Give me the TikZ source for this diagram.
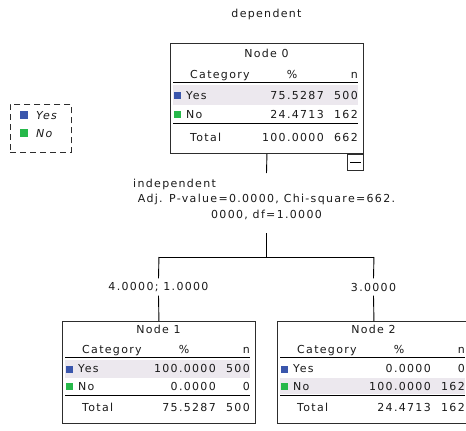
\documentclass[tikz,border=0pt]{standalone}
\usepackage{fontspec}
\newfontfamily\tf[LetterSpace=12]{DejaVu Sans}
\definecolor{boxline}{RGB}{45,45,45}
\definecolor{rowshade}{RGB}{236,232,238}
\definecolor{yesblue}{RGB}{58,86,172}
\definecolor{nogreen}{RGB}{38,184,74}
\newcommand\tabrows[9]{%
  \ifnum#3=1 \fill[rowshade] (3,42) rectangle (188,62);\else \fill[rowshade] (3,62) rectangle (188,79);\fi
  \node[anchor=base] (#1t) at (96.5,14) {#2};
  \node[anchor=base west] (#1c) at (20,35) {Category};
  \node[anchor=base] (#1p) at (122,35) {\%};
  \node[anchor=base east] (#1n) at (188,35) {n};
  \draw[rule] (3,39) -- (188,39);
  \node[sq, fill=yesblue] (#1ys) at (7,52) {};
  \node[anchor=base west] (#1y) at (16,56) {Yes};
  \node[anchor=base east] (#1yp) at (154,56) {#4};
  \node[anchor=base east] (#1yn) at (188,56) {#5};
  \node[sq, fill=nogreen] (#1ns) at (7,71) {};
  \node[anchor=base west] (#1no) at (16,75) {No};
  \node[anchor=base east] (#1np) at (154,75) {#6};
  \node[anchor=base east] (#1nn) at (188,75) {#7};
  \draw[rule] (3,80) -- (188,80);
  \node[anchor=base west] (#1to) at (20,98) {Total};
  \node[anchor=base east] (#1tp) at (154,98) {#8};
  \node[anchor=base east] (#1tn) at (188,98) {#9};
}
\begin{document}
\begin{tikzpicture}[x=1pt,y=-1pt,
  every node/.style={font={\tf\fontsize{11}{13}\selectfont}, inner sep=0pt, text=black!90},
  tbox/.style={draw=boxline, line width=0.9pt, minimum width=193pt, anchor=north west, inner sep=0pt},
  rule/.style={line width=0.9pt, black},
  conn/.style={line width=0.9pt, black},
  sq/.style={minimum size=7pt, inner sep=0pt},
]
\useasboundingbox (0,0) rectangle (466,431);

\node[anchor=base] (dep) at (266.5,17) {dependent};

% Node 0
\begin{scope}[shift={(170,43)}]
  \tabrows{a}{Node 0}{1}{75.5287}{500}{24.4713}{162}{100.0000}{662}
  \node[tbox, minimum height=110pt] (n0) at (0,0) {};
\end{scope}
\node[draw=boxline, line width=0.9pt, minimum size=16pt, anchor=north east] (mb) at (n0.south east) {};
\draw[line width=0.9pt] ([xshift=3pt]mb.west) -- ([xshift=-3pt]mb.east);

% Node 1
\begin{scope}[shift={(62,321)}, yscale=0.927]
  \tabrows{b}{Node 1}{1}{100.0000}{500}{0.0000}{0}{75.5287}{500}
  \node[tbox, minimum height=102pt] (n1) at (0,0) {};
\end{scope}

% Node 2
\begin{scope}[shift={(277,321)}, yscale=0.927]
  \tabrows{c}{Node 2}{2}{0.0000}{0}{100.0000}{162}{24.4713}{162}
  \node[tbox, minimum height=102pt] (n2) at (0,0) {};
\end{scope}

% split label
\node[anchor=base west] (indep) at (133,187) {independent};
\node[anchor=base] (stat1) at (266.5,202) {Adj. P-value=0.0000, Chi-square=662.};
\node[anchor=base] (stat2) at (266.5,218) {0000, df=1.0000};
\coordinate (a0) at (266.5,173);
\coordinate (a1) at (266.5,233);
\coordinate (sp) at (266.5,257);
\draw[conn] (n0.south) -- (a0);
\draw[conn] (a1) -- (sp);
\draw[conn] (sp -| n1.north) -- (sp -| n2.north);

\node[minimum height=17pt] (l1) at (158.5,287) {4.0000; 1.0000};
\node[minimum height=17pt] (l2) at (373.5,287) {3.0000};
\draw[conn] (sp -| n1.north) -- (l1.north);
\draw[conn] (l1.south) -- (n1.north);
\draw[conn] (sp -| n2.north) -- (l2.north);
\draw[conn] (l2.south) -- (n2.north);

% legend
\node[draw=boxline, line width=0.9pt, dash pattern=on 6pt off 4pt, minimum width=61pt, minimum height=48pt, anchor=north west] (leg) at (10,104) {};
\node[sq, minimum size=8pt, fill=yesblue] (lys) at (24,115) {};
\node[anchor=base west, font={\tf\itshape\fontsize{11}{13}\selectfont}] (lyt) at (36,119) {Yes};
\node[sq, minimum size=8pt, fill=nogreen] (lns) at (24,133) {};
\node[anchor=base west, font={\tf\itshape\fontsize{11}{13}\selectfont}] (lnt) at (36,137) {No};
\end{tikzpicture}
\end{document}
